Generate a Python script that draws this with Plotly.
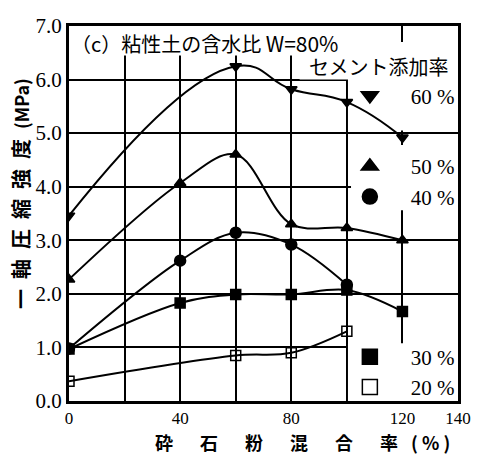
import plotly.graph_objects as go

# 砕石粉混合率 (%) and 一軸圧縮強度 (MPa) for each cement ratio
x_60 = [0, 60, 80, 100, 120]
y_60 = [3.46, 6.25, 5.82, 5.58, 4.92]

x_50 = [0, 40, 60, 80, 100, 120]
y_50 = [2.27, 4.07, 4.6, 3.3, 3.23, 3.0]

x_40 = [0, 40, 60, 80, 100]
y_40 = [0.98, 2.62, 3.14, 2.92, 2.17]

x_30 = [0, 40, 60, 80, 100, 120]
y_30 = [0.97, 1.83, 1.99, 1.99, 2.07, 1.67]

x_20 = [0, 60, 80, 100]
y_20 = [0.37, 0.85, 0.9, 1.3]

x_ticks = [0, 20, 40, 60, 80, 100, 120, 140]
x_ticktext = ["0", "", "40", "", "80", "", "120", "140"]
y_ticks = [0, 1, 2, 3, 4, 5, 6, 7]

# name, x, y, marker symbol, marker size, spline smoothing, legend box
series = [
    ("60 %", x_60, y_60, "triangle-down", 10, 1.3, "legend"),
    ("50 %", x_50, y_50, "triangle-up", 10, 1.0, "legend2"),
    ("40 %", x_40, y_40, "circle", 11, 1.0, "legend2"),
    ("30 %", x_30, y_30, "square", 10, 1.0, "legend3"),
    ("20 %", x_20, y_20, "square-open", 10, 1.0, "legend3"),
]

serif = "Liberation Serif"
cjk = "Noto Sans CJK JP"

fig = go.Figure()

for name, xs, ys, sym, size, smooth, leg in series:
    fig.add_trace(go.Scatter(
        x=xs, y=ys, mode="lines+markers", showlegend=False,
        line=dict(color="black", width=2, shape="spline", smoothing=smooth),
        marker=dict(symbol=sym, size=size, color="black",
                    line=dict(color="black", width=1.5)),
    ))
    # marker-only key for the legend boxes
    fig.add_trace(go.Scatter(
        x=[None], y=[None], mode="markers", name="\u2002\u2002" + name, legend=leg,
        marker=dict(symbol=sym, size=15, color="black",
                    line=dict(color="black", width=1.5)),
    ))

axis_common = dict(
    showgrid=True, gridcolor="black", gridwidth=1.8,
    showline=True, linecolor="black", linewidth=3, mirror=True,
    ticks="", zeroline=False,
)

fig.update_xaxes(range=[0, 140], tickvals=x_ticks, ticktext=x_ticktext,
                 tickfont=dict(family=serif, size=17, color="black"), **axis_common)
fig.update_yaxes(range=[0, 7], tickvals=y_ticks, tickformat=".1f",
                 tickfont=dict(family=serif, size=21, color="black"), **axis_common)

# white panels behind the caption and legend entries
white_boxes = [
    (0, 110, 6.45, 7.0),
    (83, 140, 6.0, 6.7),
    (100.4, 140, 5.05, 6.05),
    (101.5, 140, 3.56, 4.78),
    (100.4, 140, 0.0, 1.08),
]
shapes = [
    dict(type="rect", xref="x", yref="y", x0=a, x1=b, y0=c, y1=d,
         fillcolor="white", line=dict(width=0), layer="between")
    for a, b, c, d in white_boxes
]

legend_style = dict(
    bgcolor="rgba(0,0,0,0)", borderwidth=0,
    font=dict(family=serif, size=21, color="black"),
    xanchor="left", yanchor="middle", itemclick=False,
)

fig.update_layout(
    width=483, height=455,
    margin=dict(l=69, r=22, t=26, b=54),
    paper_bgcolor="white", plot_bgcolor="white",
    shapes=shapes,
    legend=dict(x=0.722, y=0.814, **legend_style),
    legend2=dict(x=0.722, y=0.585, **legend_style),
    legend3=dict(x=0.722, y=0.077, **legend_style),
    annotations=[
        dict(text="（c）粘性土の含水比 <span style='font-size:21px'>W=80%</span>",
             xref="paper", yref="paper",
             x=0.0, y=0.955, xanchor="left", yanchor="middle", showarrow=False,
             font=dict(family=cjk, size=20, color="black")),
        dict(text="セメント添加率", xref="paper", yref="paper",
             x=0.797, y=0.893, xanchor="center", yanchor="middle", showarrow=False,
             font=dict(family=cjk, size=20, color="black")),
        dict(text="<b>一\u2002軸\u2002圧\u2002縮\u2002強\u2002度\u2002<span style='font-size:18px'>(MPa)</span></b>",
             xref="paper", yref="paper", x=-0.125, y=0.553, textangle=-90,
             xanchor="center", yanchor="middle", showarrow=False,
             font=dict(family=cjk, size=20, color="black")),
        dict(text="<b>砕\u2003\u2002石\u2003\u2002粉\u2003\u2002混\u2003\u2002合\u2003\u2002率\u2002 ( % )</b>",
             xref="paper", yref="paper", x=0.6, y=-0.108,
             xanchor="center", yanchor="middle", showarrow=False,
             font=dict(family=cjk, size=18, color="black")),
    ],
)

fig.write_html("out.html")
